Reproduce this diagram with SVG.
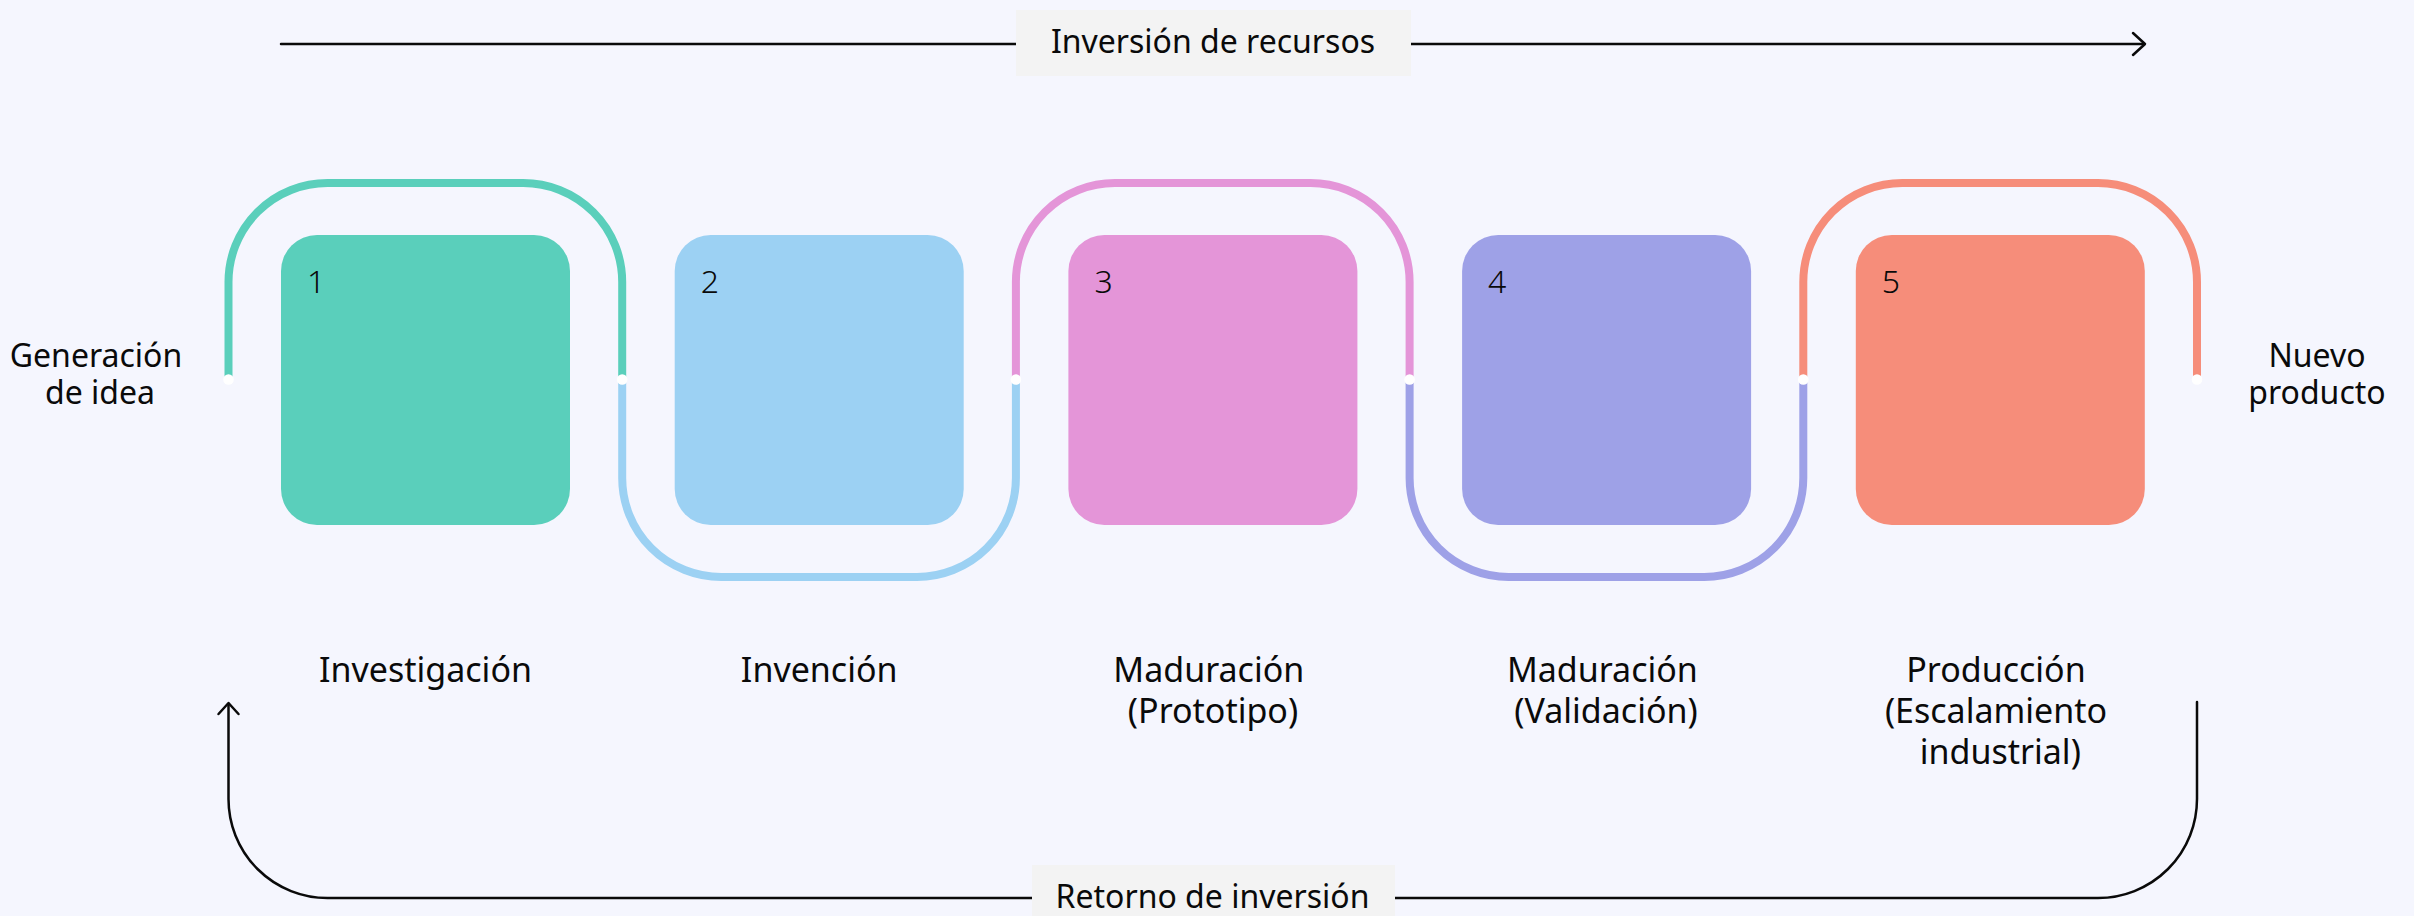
<svg xmlns="http://www.w3.org/2000/svg" width="2414" height="916" viewBox="0 0 2414 916">
<style>
text{font-family:"Noto Sans","Open Sans",sans-serif;fill:#0a0a0a}
.lbl{font-size:34px;text-anchor:middle}
.side{font-size:32px;text-anchor:middle}
.num{font-size:32px;font-weight:300}
.tag{font-size:32px;text-anchor:middle}
.loop{fill:none;stroke-width:8;stroke-linecap:butt}
.arr{fill:none;stroke:#0a0a0a;stroke-width:2.5;stroke-linecap:round;stroke-linejoin:round}
.tagbox{fill:#f3f3f3}
.dot{fill:#ffffff}
</style>
<rect x="0" y="0" width="2414" height="916" fill="#f5f6fe"/>

<g id="connectors">
  <path class="arr" d="M281,44 H2144"/>
  <path class="arr" d="M2133,33 L2145,44 L2133,55"/>
  <path class="arr" d="M2197,702 V799 A99,99 0 0 1 2098,898 H327.5 A99,99 0 0 1 228.5,799 V704"/>
  <path class="arr" d="M218.5,714 L228.5,703 L238.5,714"/>

  <path class="loop" stroke="#5acfbb" d="M228.5,380 V282 A99,99 0 0 1 327.5,183 H523.2 A99,99 0 0 1 622.2,282 V380"/>
  <path class="loop" stroke="#9cd1f3" d="M622.2,380 V478 A99,99 0 0 0 721.2,577 H916.9 A99,99 0 0 0 1015.9,478 V380"/>
  <path class="loop" stroke="#e495d8" d="M1015.9,380 V282 A99,99 0 0 1 1114.9,183 H1310.6 A99,99 0 0 1 1409.6,282 V380"/>
  <path class="loop" stroke="#9ea1e7" d="M1409.6,380 V478 A99,99 0 0 0 1508.6,577 H1704.3 A99,99 0 0 0 1803.3,478 V380"/>
  <path class="loop" stroke="#f68d7a" d="M1803.3,380 V282 A99,99 0 0 1 1902.3,183 H2098 A99,99 0 0 1 2197,282 V380"/>

  <circle class="dot" cx="228.5" cy="379.5" r="5.3"/>
  <circle class="dot" cx="622.2" cy="379.5" r="5.3"/>
  <circle class="dot" cx="1015.9" cy="379.5" r="5.3"/>
  <circle class="dot" cx="1409.6" cy="379.5" r="5.3"/>
  <circle class="dot" cx="1803.3" cy="379.5" r="5.3"/>
  <circle class="dot" cx="2197" cy="379.5" r="5.3"/>

  <g id="label-inversion">
    <rect class="tagbox" x="1016" y="10" width="395" height="66"/>
    <text class="tag" x="1213" y="53">Inversión de recursos</text>
  </g>
  <g id="label-retorno">
    <rect class="tagbox" x="1032" y="865" width="363" height="66"/>
    <text class="tag" x="1212.5" y="907.5">Retorno de inversión</text>
  </g>
</g>

<g id="start">
  <text class="side"><tspan x="96" y="367">Generación</tspan><tspan x="100" y="404">de idea</tspan></text>
</g>
<g id="end">
  <text class="side"><tspan x="2317" y="367">Nuevo</tspan><tspan x="2317" y="404">producto</tspan></text>
</g>

<g id="stage1">
  <rect x="281" y="235" width="289" height="290" rx="36" fill="#5acfbb"/>
  <text class="num" x="307" y="293">1</text>
  <text class="lbl" x="425.5" y="682">Investigación</text>
</g>
<g id="stage2">
  <rect x="674.7" y="235" width="289" height="290" rx="36" fill="#9cd1f3"/>
  <text class="num" x="700.7" y="293">2</text>
  <text class="lbl" x="819.2" y="682">Invención</text>
</g>
<g id="stage3">
  <rect x="1068.4" y="235" width="289" height="290" rx="36" fill="#e495d8"/>
  <text class="num" x="1094.4" y="293">3</text>
  <text class="lbl"><tspan x="1208.8" y="682">Maduración</tspan><tspan x="1213" y="723">(Prototipo)</tspan></text>
</g>
<g id="stage4">
  <rect x="1462.1" y="235" width="289" height="290" rx="36" fill="#9ea1e7"/>
  <text class="num" x="1488.1" y="293">4</text>
  <text class="lbl"><tspan x="1602.4" y="682">Maduración</tspan><tspan x="1606" y="723">(Validación)</tspan></text>
</g>
<g id="stage5">
  <rect x="1855.8" y="235" width="289" height="290" rx="36" fill="#f68d7a"/>
  <text class="num" x="1881.8" y="293">5</text>
  <text class="lbl"><tspan x="1996" y="682">Producción</tspan><tspan x="1996" y="723">(Escalamiento</tspan><tspan x="2000.3" y="764">industrial)</tspan></text>
</g>
</svg>
